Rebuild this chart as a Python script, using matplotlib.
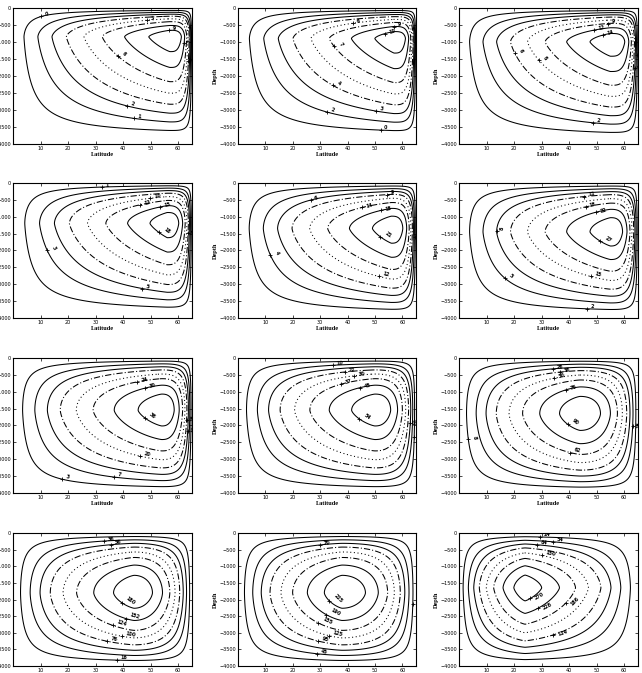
import numpy as np
import matplotlib
matplotlib.use('Agg')
import matplotlib.pyplot as plt
from matplotlib.transforms import offset_copy

# centre of the overturning cell in each panel (latitude, depth)
center_lat = [57, 57, 55, 56, 56, 55, 54, 50, 44, 44, 38, 24]
center_depth = [-850, -900, -1000, -1200, -1350, -1450, -1550, -1550, -1650, -1800, -1800, -1650]
# how the cell falls off towards each wall (west, east, top, bottom)
west_exp = [1.15, 1.1, 1.15, 1.05, 1.1, 1.15, 1.25, 1.3, 1.3, 1.3, 1.3, 1.3]
east_exp = [3.5, 3.5, 3.5, 3.0, 3.0, 2.8, 2.6, 2.4, 2.2, 2.0, 2.0, 1.2]
top_exp = [1.6, 1.6, 1.7, 1.8, 1.8, 1.9, 2.0, 2.0, 2.0, 1.9, 1.9, 1.6]
bottom_exp = [1.2, 1.2, 1.2, 1.25, 1.3, 1.3, 1.4, 1.4, 1.5, 1.5, 1.5, 1.3]
# where the streamfunction reaches zero
top_zero = -30
bottom_zero = [-3800, -3800, -3850, -3850, -3900, -3900, -3950, -3950, -3950, -3950, -3950, -3950]
east_zero = 65
# peak streamfunction of each panel and the contour levels as fractions of it
peak = [10, 12, 16, 20, 24, 30, 40, 60, 100, 200, 250, 300]
level_frac = [0.08, 0.18, 0.28, 0.38, 0.5, 0.62, 0.76, 0.9]
DD = (0, (6, 2, 1, 2))
DT = (0, (1, 2.5))
styles = ['-', '-', '-', DD, DT, DD, '-', '-']

lat = np.linspace(0, 65, 500)
depth = np.linspace(0, -4000, 500)


def rise(t, p):
    t = np.clip(t, 0, 1)
    return 1 - (1 - t)**p


def cell(k):
    xc = center_lat[k]
    zc = center_depth[k]
    X = np.where(lat <= xc, rise(lat / xc, west_exp[k]),
                 rise((east_zero - lat) / (east_zero - xc), east_exp[k]))
    Z = np.where(depth >= zc, rise((top_zero - depth) / (top_zero - zc), top_exp[k]),
                 rise((depth - bottom_zero[k]) / (zc - bottom_zero[k]), bottom_exp[k]))
    return np.outer(Z, X) * peak[k]


fig = plt.figure(figsize=(6.42, 6.73), dpi=100)
W, H = 642.0, 673.0
cols = [(13, 192), (238, 416), (459, 638)]
rows = [(8, 144), (183, 318), (358, 493), (533, 666)]

for k in range(12):
    r, c = divmod(k, 3)
    x0, x1 = cols[c]
    y0, y1 = rows[r]
    ax = fig.add_axes([x0 / W, 1 - y1 / H, (x1 - x0) / W, (y1 - y0) / H])
    psi = cell(k)
    lev = [f * peak[k] for f in level_frac]
    cs = ax.contour(lat, depth, psi, levels=lev, colors='k', linewidths=0.75)
    cs.set_linestyles(styles)
    txts = ax.clabel(cs, lev, fontsize=3.5, fmt='%d', inline=False)
    shift = offset_copy(ax.transData, fig=fig, x=2.5, y=1.5, units='points')
    for t in txts:
        px, py = t.get_position()
        ax.plot(px, py, '+', color='k', ms=2.5, mew=0.6)
        t.set_transform(shift)
        t.set_fontweight('bold')
        t.set_ha('left')
    ax.set_xlim(0, 65)
    ax.set_ylim(-4000, 0)
    ax.set_xticks([10, 20, 30, 40, 50, 60])
    ax.set_yticks(np.arange(-4000, 1, 500))
    ax.tick_params(direction='in', length=2, width=0.5, labelsize=3.5, pad=1.5, top=True, right=True)
    for s in ax.spines.values():
        s.set_linewidth(0.8)
    ax.set_xlabel('Latitude', fontsize=4.5, fontweight='bold', family='Liberation Serif', labelpad=1)
    ax.set_ylabel('Depth', fontsize=4.5, fontweight='bold', family='Liberation Serif', labelpad=1)

fig.savefig('out.png', dpi=100)
